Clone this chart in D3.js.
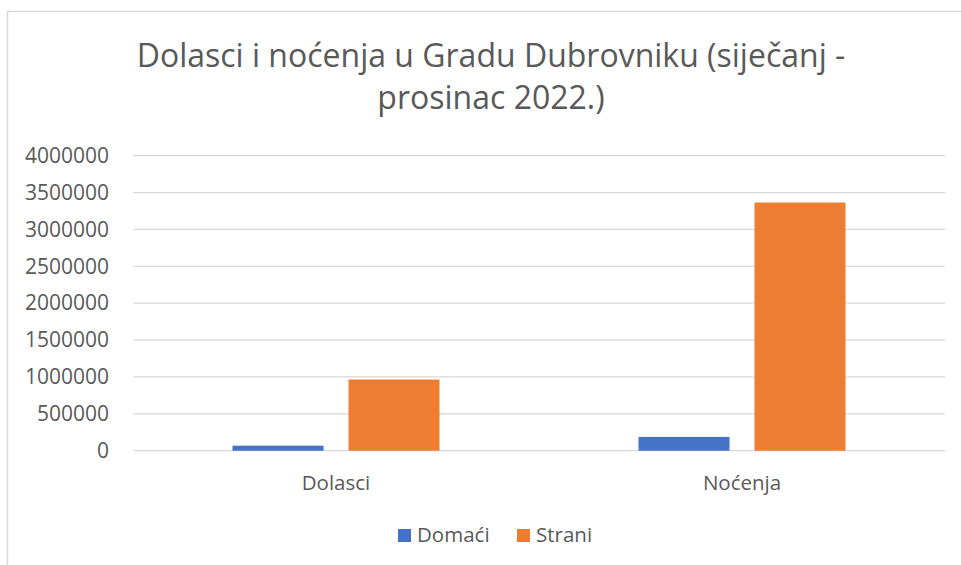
<!DOCTYPE html>
<html>
<head>
<meta charset="utf-8">
<script src="https://cdn.jsdelivr.net/npm/d3@7"></script>
<style>
  body { margin: 0; background: #fff; }
  text { font-family: "Open Sans", sans-serif; fill: #595959; }
</style>
</head>
<body>
<svg id="chart" width="961" height="565"></svg>
<script>
const categories = ["Dolasci", "Noćenja"];
const seriesNames = ["Domaći", "Strani"];
const domaci = [68000, 187000];
const strani = [965000, 3365000];
const yTicks = [0, 500000, 1000000, 1500000, 2000000, 2500000, 3000000, 3500000, 4000000];
const titleLines = ["Dolasci i noćenja u Gradu Dubrovniku (siječanj -", "prosinac 2022.)"];

const colors = ["#4472C4", "#ED7D31"];

const svg = d3.select("#chart");

// chart border (only left and top visible in frame)
svg.append("rect")
    .attr("x", 7.5)
    .attr("y", 11.5)
    .attr("width", 1000)
    .attr("height", 1000)
    .attr("fill", "#fff")
    .attr("stroke", "#d9d9d9")
    .attr("stroke-width", 1.5);

const plotL = 133, plotR = 945, plotT = 155.7, plotB = 450.7;

const xScale = d3.scaleBand(categories, [plotL, plotR]);
const yScale = d3.scaleLinear([0, 4000000], [plotB, plotT]);

// gridlines
svg.append("g")
    .selectAll("line")
    .data(yTicks)
    .join("line")
    .attr("x1", plotL)
    .attr("x2", plotR)
    .attr("y1", d => yScale(d))
    .attr("y2", d => yScale(d))
    .attr("stroke", "#d9d9d9")
    .attr("stroke-width", 1.3);

const yAxis = d3.axisLeft(yScale).tickValues(yTicks).tickSize(0).tickPadding(0).tickFormat(d3.format("d"));
svg.append("g")
    .attr("transform", "translate(109,0)")
    .call(yAxis)
    .call(g => g.select(".domain").remove())
    .selectAll("text")
    .attr("font-size", "21px")
    .attr("font-family", "Open Sans")
    .attr("fill", "#595959");

// bars
const barW = 91, gap = 25;
const data = categories.map((c, i) => ({cat: c, values: [domaci[i], strani[i]]}));

data.forEach(d => {
    const center = xScale(d.cat) + xScale.bandwidth() / 2;
    const start = center - (barW * 2 + gap) / 2;
    d.values.forEach((v, j) => {
        svg.append("rect")
            .attr("x", start + j * (barW + gap))
            .attr("y", yScale(v))
            .attr("width", barW)
            .attr("height", yScale(0) - yScale(v))
            .attr("fill", colors[j]);
    });
});

// category labels
const xAxis = d3.axisBottom(xScale).tickSize(0).tickPadding(0);
svg.append("g")
    .attr("transform", `translate(0,${plotB})`)
    .call(xAxis)
    .call(g => g.select(".domain").remove())
    .selectAll("text")
    .attr("dy", null)
    .attr("y", 39)
    .attr("font-size", "20.5px")
    .attr("font-family", "Open Sans")
    .attr("fill", "#595959");

// title
svg.append("g")
    .selectAll("text")
    .data(titleLines)
    .join("text")
    .attr("x", 491)
    .attr("y", (d, i) => 67 + i * 42)
    .attr("text-anchor", "middle")
    .attr("font-size", "32px")
    .text(d => d);

// legend
const legendX = [398, 517];
const legend = svg.append("g");
seriesNames.forEach((name, i) => {
    legend.append("rect")
        .attr("x", legendX[i])
        .attr("y", 529)
        .attr("width", 13)
        .attr("height", 13)
        .attr("fill", colors[i]);
    legend.append("text")
        .attr("x", legendX[i] + 19)
        .attr("y", 542)
        .attr("font-size", "20.5px")
        .text(name);
});
</script>
</body>
</html>
